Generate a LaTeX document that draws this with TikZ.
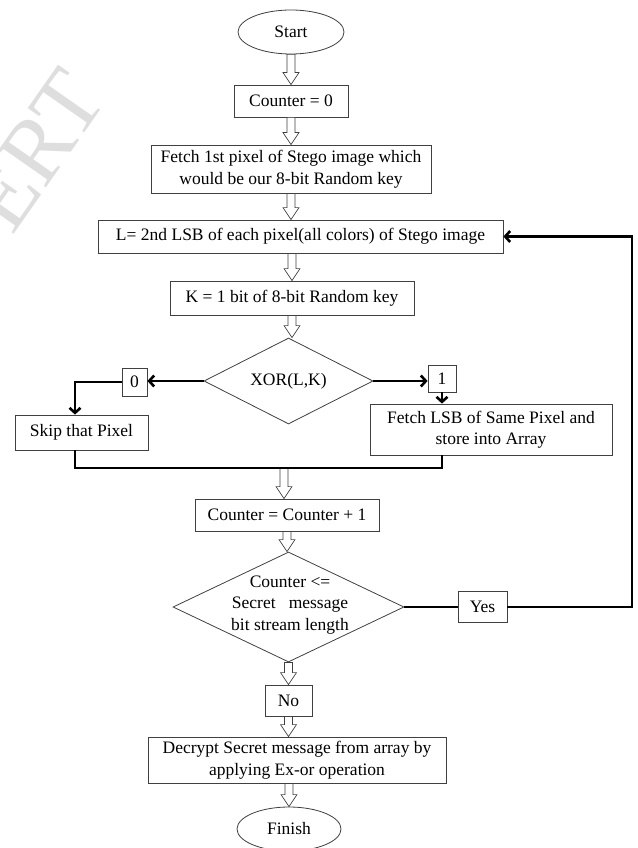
\documentclass[tikz,border=0pt]{standalone}
\usepackage{fontspec}
\setmainfont{Liberation Serif}
\usetikzlibrary{shapes.geometric,calc,arrows.meta}
\newcommand\harrow[2]{\path[harr] let \p1=(#1), \p2=(#2) in (\x1-4pt,\y1) -- (\x1-4pt,\y2+12pt) -- (\x1-8pt,\y2+12pt) -- (\x1,\y2) -- (\x1+8pt,\y2+12pt) -- (\x1+4pt,\y2+12pt) -- (\x1+4pt,\y1) -- cycle;}
\begin{document}
\begin{tikzpicture}[x=1pt,y=-1pt,
  txt/.style={font=\fontsize{17.5}{21.5}\selectfont, align=center, inner sep=0pt},
  box/.style={txt, draw=black!75, line width=0.8pt, fill=white},
  dia/.style={diamond, draw=black!75, line width=0.8pt, inner sep=0pt},
  harr/.style={draw=black!75, fill=white, line width=0.7pt},
  conn/.style={line width=2.6pt, black},
  tip/.style={-{Straight Barb[length=5pt,width=11pt]}}]
\useasboundingbox (0,0) rectangle (637,848);
% watermark
\node[rotate=55, text=black!13, font=\fontsize{92}{92}\selectfont, inner sep=0pt] (wm) at (36,150) {ERT};
% nodes
\node[box, ellipse, minimum width=106, minimum height=44] (start) at (291,32) {Start};
\node[box, minimum width=114, minimum height=32] (c0) at (291,101) {Counter = 0};
\node[box, minimum width=280, minimum height=48] (fetch1) at (291,169) {Fetch 1st pixel of Stego image which\\would be our 8-bit Random key};
\node[box, minimum width=405, minimum height=33] (L) at (300.5,236.5) {L= 2nd LSB of each pixel(all colors) of Stego image};
\node[box, minimum width=244, minimum height=34] (K) at (292,298) {K = 1 bit of 8-bit Random key};
\node[dia, minimum width=169, minimum height=86] (xor) at (288.5,381) {};
\node[txt] (xort) at (xor) {XOR(L,K)};
\node[box, minimum width=25, minimum height=28] (b0) at (134.5,382) {0};
\node[box, minimum width=28, minimum height=27] (b1) at (442,378.5) {1};
\node[box, minimum width=133, minimum height=35] (skip) at (81.5,432.5) {Skip that Pixel};
\node[box, minimum width=242, minimum height=51] (flsb) at (491,429.5) {Fetch LSB of Same Pixel and\\store into Array};
\coordinate (m) at (284,468);
\coordinate (mr) at (b1.south |- m);
\node[box, minimum width=184, minimum height=32] (cc) at (287,515) {Counter = Counter + 1};
\node[dia, minimum width=231, minimum height=110] (d2) at (288.5,607) {};
\node[txt] (d2t) at (290,605) {Counter <=\\Secret\ \ \ message\\bit stream length};
\node[box, minimum width=49, minimum height=31] (yes) at (482.5,607) {Yes};
\coordinate (loop) at (632,607);
\node[box, minimum width=47, minimum height=31] (no) at (288.5,700.5) {No};
\node[box, minimum width=298, minimum height=46] (dec) at (297,760) {Decrypt Secret message from array by\\applying Ex-or operation};
\node[box, ellipse, minimum width=104, minimum height=44] (fin) at (289,829) {Finish};
% hollow arrows
\harrow{start.south}{c0.north}
\harrow{c0.south}{fetch1.north}
\harrow{fetch1.south}{fetch1.south |- L.north}
\harrow{K.north |- L.south}{K.north}
\harrow{K.south}{K.south |- xor.north}
\harrow{m}{m |- cc.north}
\harrow{cc.south}{cc.south |- d2.north}
\harrow{d2.south}{d2.south |- no.north}
\harrow{no.south}{no.south |- dec.north}
\harrow{fin.north |- dec.south}{fin.north}
% connectors
\draw[conn,tip] (xor.west) -- (xor.west -| b0.east);
\draw[conn,tip] (b0.west) -| ([xshift=-6.5pt]skip.north);
\draw[conn,tip] (xor.east) -- (xor.east -| b1.west);
\draw[conn,tip] (b1.south) -- (b1.south |- flsb.north);
\draw[conn] ([xshift=-6.5pt]skip.south) |- (mr) -- (b1.south |- flsb.south);
\draw[conn] (d2.east) -- (yes.west);
\draw[conn,tip] (yes.east) -- (loop) |- (L.east);
\end{tikzpicture}
\end{document}
